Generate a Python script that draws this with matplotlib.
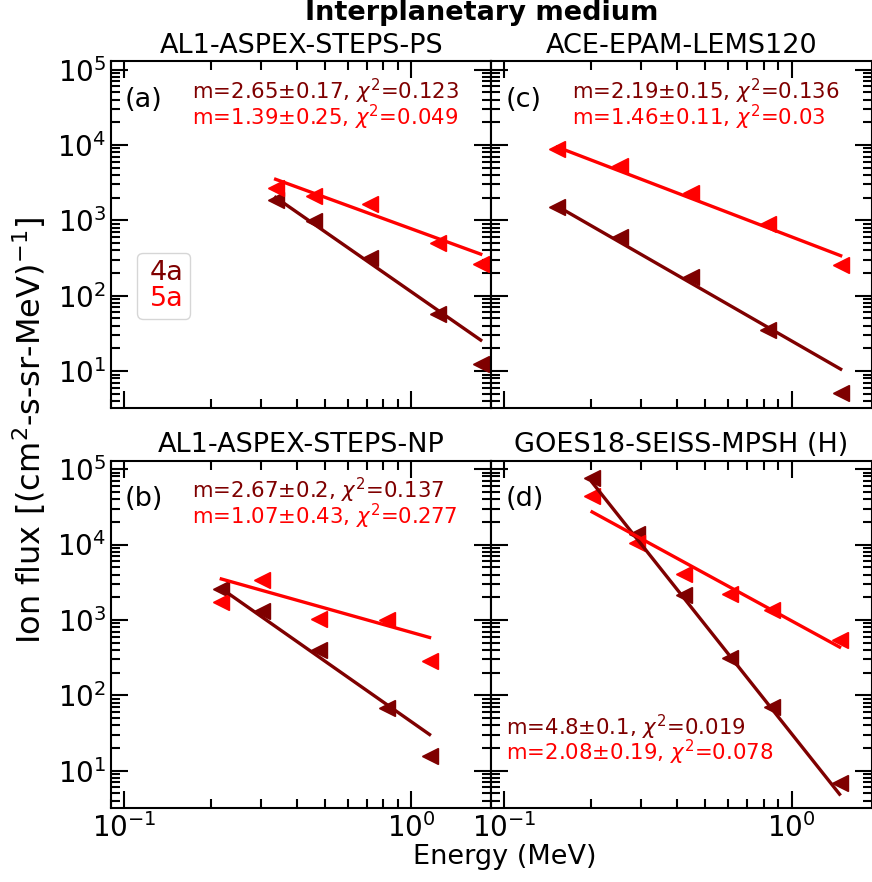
import numpy as np
import matplotlib.pyplot as plt
from matplotlib.ticker import NullFormatter

# panel order: (a) top-left, (c) top-right, (b) bottom-left, (d) bottom-right
titles = ["AL1-ASPEX-STEPS-PS", "ACE-EPAM-LEMS120", "AL1-ASPEX-STEPS-NP", "GOES18-SEISS-MPSH (H)"]
tags = ["(a)", "(c)", "(b)", "(d)"]
events = ["4a", "5a"]
colors = ["#7f0000", "#ff0000"]

# energies (MeV)
energy_ps = [0.337, 0.457, 0.718, 1.236, 1.746]
energy_ace = [0.153, 0.252, 0.448, 0.826, 1.483]
energy_np = [0.218, 0.303, 0.476, 0.820, 1.158]
energy_goes = [0.202, 0.290, 0.421, 0.611, 0.853, 1.47]

# ion flux, event 4a / 5a
flux_ps_4a = [1836, 990, 317, 56.6, 12.4]
flux_ps_5a = [2728, 2138, 1641, 501, 264]
flux_ace_4a = [1497, 596, 176, 34.8, 5.2]
flux_ace_5a = [8750, 5210, 2344, 903, 259]
flux_np_4a = [2541, 1315, 397, 68, 15.9]
flux_np_5a = [1727, 3375, 1020, 1000, 287]
flux_goes_4a = [75900, 13800, 2118, 308, 70.8, 6.86]
flux_goes_5a = [43500, 10500, 4085, 2183, 1342, 539]

# power-law fits: slope, error, chi2, flux at 1 MeV
slope_4a = [2.65, 2.19, 2.67, 4.8]
slope_err_4a = [0.17, 0.15, 0.2, 0.1]
chi2_4a = [0.123, 0.136, 0.137, 0.019]
norm_4a = [113, 25.2, 44.7, 31]
slope_5a = [1.39, 1.46, 1.07, 2.08]
slope_err_5a = [0.25, 0.11, 0.43, 0.19]
chi2_5a = [0.049, 0.03, 0.277, 0.078]
norm_5a = [774, 605, 685, 973]

energies = [energy_ps, energy_ace, energy_np, energy_goes]
fluxes_4a = [flux_ps_4a, flux_ace_4a, flux_np_4a, flux_goes_4a]
fluxes_5a = [flux_ps_5a, flux_ace_5a, flux_np_5a, flux_goes_5a]

fig, axs = plt.subplots(2, 2, figsize=(8.72, 8.82), dpi=100, sharex=True, sharey=True)
fig.subplots_adjust(left=0.1273, right=0.9995, top=0.9308, bottom=0.0839, wspace=0, hspace=0.15)
axs = axs.ravel()

for i, ax in enumerate(axs):
    e = np.array(energies[i])
    fits = [(fluxes_4a[i], slope_4a[i], slope_err_4a[i], chi2_4a[i], norm_4a[i]),
            (fluxes_5a[i], slope_5a[i], slope_err_5a[i], chi2_5a[i], norm_5a[i])]
    for k, (f, m, dm, c2, a) in enumerate(fits):
        ax.plot(e, f, "<", color=colors[k], ms=12, label=events[k], zorder=2)
        ef = np.array([e.min(), e.max()])
        ax.plot(ef, a * ef ** (-m), "-", color=colors[k], lw=2.4, zorder=3)
        if i == 3:
            tx, ty = 0.04, 0.233 - 0.072 * k
        else:
            tx, ty = 0.212, 0.914 - 0.075 * k
        ax.text(tx, ty, f"m={m}±{dm}, $\\chi^2$={c2}", color=colors[k], fontsize=15.3,
                transform=ax.transAxes, va="center", ha="left")
    ax.text(0.037, 0.888, tags[i], fontsize=19.5, transform=ax.transAxes, va="center", ha="left")
    ax.set_title(titles[i], fontsize=19.5)
    ax.set_xscale("log")
    ax.set_yscale("log")
    ax.set_xlim(0.09, 1.9)
    ax.set_ylim(3.2, 1.3e5)
    ax.tick_params(which="both", direction="in", top=True, right=True, labelsize=20, width=1.5)
    ax.tick_params(which="major", length=12.5)
    ax.tick_params(which="minor", length=6.5)
    ax.xaxis.set_minor_formatter(NullFormatter())
    ax.yaxis.set_minor_formatter(NullFormatter())
    for s in ax.spines.values():
        s.set_linewidth(1.5)

leg = axs[0].legend(loc="center", bbox_to_anchor=(0.139, 0.353), handlelength=0, handletextpad=0.2,
                    markerscale=0, fontsize=19.5, labelspacing=0, borderpad=0.25)
for t, c in zip(leg.get_texts(), colors):
    t.set_color(c)

fig.text(0.552, 0.985, "Interplanetary medium", fontsize=19.5, fontweight="bold", ha="center", va="center")
fig.text(0.579, 0.028, "Energy (MeV)", fontsize=19.5, ha="center", va="center")
fig.text(0.034, 0.512, "Ion flux [(cm$^2$-s-sr-MeV)$^{-1}$]", fontsize=23, rotation=90,
         ha="center", va="center")

fig.savefig("out.png", dpi=100)
